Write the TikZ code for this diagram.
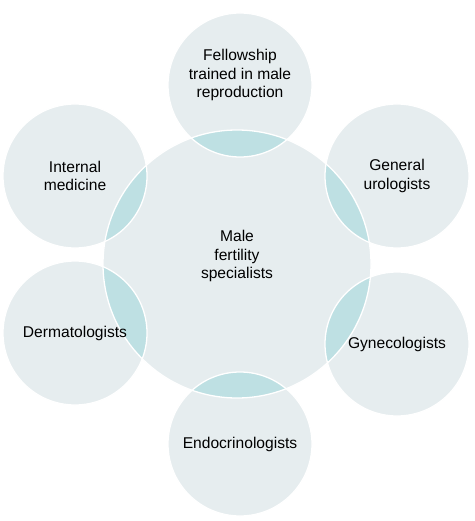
\documentclass[tikz,border=0pt]{standalone}
\usepackage{fontspec}
\setmainfont{Liberation Sans}
\usepackage{tikz}
\usetikzlibrary{positioning}
\definecolor{cfill}{RGB}{230,237,239}
\definecolor{clens}{RGB}{190,224,227}

\begin{document}
\begin{tikzpicture}[
  x=1pt, y=-1pt,
  font=\fontsize{15.6}{18.7}\selectfont,
  disc/.style={circle, fill=cfill, inner sep=0pt, outer sep=0pt},
  hub/.style={disc, minimum size=268pt},
  spoke/.style={disc, minimum size=144pt},
  rim/.style={draw=white, line width=1.3pt},
  txt/.style={align=center, inner sep=0pt, text=black},
]
\useasboundingbox (0,0) rectangle (474,521);
\fill[white] (0,0) rectangle (474,521);

% --- circles ---
\node[hub] (mfs) at (237,264) {};
\node[spoke] (fel) at (240,85) {};
\node[spoke] (gen) at (397,176) {};
\node[spoke] (gyn) at (397,344) {};
\node[spoke] (endo) at (240,444) {};
\node[spoke] (derm) at (75,333) {};
\node[spoke] (intm) at (75,176) {};

% --- overlaps with the centre ---
\begin{scope}
  \clip (mfs.center) circle[radius=134pt];
  \fill[clens] (fel.center) circle[radius=72pt];
  \fill[clens] (gen.center) circle[radius=72pt];
  \fill[clens] (gyn.center) circle[radius=72pt];
  \fill[clens] (endo.center) circle[radius=72pt];
  \fill[clens] (derm.center) circle[radius=72pt];
  \fill[clens] (intm.center) circle[radius=72pt];
\end{scope}

% --- white rims ---
\draw[rim] (mfs.center) circle[radius=134pt];
\draw[rim] (fel.center) circle[radius=72pt];
\draw[rim] (gen.center) circle[radius=72pt];
\draw[rim] (gyn.center) circle[radius=72pt];
\draw[rim] (endo.center) circle[radius=72pt];
\draw[rim] (derm.center) circle[radius=72pt];
\draw[rim] (intm.center) circle[radius=72pt];

% --- labels ---
\node[txt, yshift=8pt] (mfsl) at (mfs.center) {Male\\fertility\\specialists};
\node[txt, yshift=10pt] (fell) at (fel.center) {Fellowship\\trained in male\\reproduction};
\node[txt] (genl) at (gen.center) {General\\urologists};
\node[txt] (gynl) at (gyn.center) {Gynecologists};
\node[txt] (endol) at (endo.center) {Endocrinologists};
\node[txt] (derml) at (derm.center) {Dermatologists};
\node[txt] (intml) at (intm.center) {Internal\\medicine};
\end{tikzpicture}
\end{document}
